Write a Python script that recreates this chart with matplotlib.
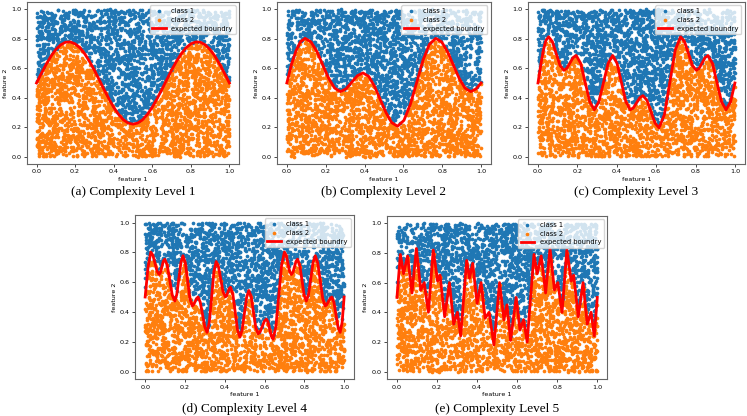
import numpy as np
import matplotlib.pyplot as plt

# expected boundary curves (x, y)
level1_x = [0, .025, .05, .075, .1, .125, .15, .175, .2, .225, .25, .275, .3, .325, .35, .375, .4,
            .425, .45, .475, .5, .525, .55, .575, .6, .625, .65, .675, .7, .725, .75, .775, .8,
            .825, .85, .875, .9, .925, .95, .975, 1.0]
level1_y = [.5, .565, .627, .682, .727, .759, .777, .779, .766, .739, .698, .646, .587, .522, .456,
            .393, .335, .287, .25, .228, .22, .228, .25, .287, .335, .393, .456, .522, .587, .646,
            .698, .739, .766, .779, .777, .759, .727, .682, .627, .565, .5]

level2_x = [0, .024, .047, .070, .094, .124, .155, .185, .215, .246, .276, .305, .334, .363, .392,
            .422, .451, .481, .511, .540, .570, .603, .636, .669, .701, .734, .767, .797, .827,
            .857, .887, .917, .947, .975, 1.0]
level2_y = [.50, .627, .718, .780, .803, .779, .713, .622, .532, .465, .441, .460, .505, .549, .568,
            .544, .478, .387, .297, .230, .206, .246, .355, .505, .654, .763, .803, .779, .713,
            .622, .532, .465, .441, .460, .50]

level3_x = [0, .0135, .027, .040, .054, .073, .0925, .112, .131, .147, .1625, .178, .194, .217, .240,
            .263, .286, .309, .3325, .356, .379, .4015, .424, .4465, .469, .485, .501, .517, .533,
            .5535, .574, .5945, .615, .642, .6695, .697, .724, .744, .764, .784, .804, .819,
            .8335, .848, .863, .886, .909, .932, .955, .978, 1.0]
level3_y = [.50, .617, .720, .788, .814, .781, .700, .619, .586, .601, .636, .672, .687, .633, .502,
            .372, .318, .372, .502, .633, .687, .633, .502, .372, .318, .332, .366, .400, .414,
            .382, .304, .227, .195, .285, .504, .724, .814, .781, .700, .619, .586, .601, .636,
            .672, .687, .633, .502, .372, .318, .372, .50]

level4_x = [0, .0145, .0285, .039, .060, .070, .077, .091, .0985, .111, .136, .149, .159, .180, .190,
            .202, .225, .237, .244, .259, .266, .277, .300, .311, .3225, .3455, .357, .3685, .3915,
            .403, .4095, .4225, .429, .441, .464, .476, .487, .510, .521, .533, .556, .568, .578,
            .599, .609, .6175, .6345, .643, .657, .686, .700, .709, .726, .735, .743, .758, .766,
            .777, .799, .810, .821, .844, .855, .8675, .8925, .905, .913, .930, .938, .9485,
            .9695, .980, .990, 1.0]
level4_y = [.50, .70, .802, .780, .673, .651, .666, .739, .754, .713, .514, .473, .517, .733, .777,
            .728, .489, .440, .449, .491, .500, .465, .298, .263, .332, .669, .738, .703, .535,
            .501, .510, .557, .566, .517, .280, .231, .277, .498, .544, .502, .295, .253, .267,
            .338, .352, .332, .237, .217, .302, .717, .802, .780, .673, .651, .666, .739, .754,
            .713, .514, .473, .517, .733, .777, .728, .489, .440, .449, .491, .500, .465,
            .298, .263, .33, .50]

level5_x = [0, .017, .033, .053, .075, .097, .119, .136, .157, .181, .203, .215, .238, .262, .283,
            .302, .318, .348, .362, .378, .400, .420, .440, .460, .484, .512, .534, .549, .567,
            .595, .614, .632, .650, .667, .684, .700, .720, .742, .764, .786, .803, .824, .848,
            .870, .882, .905, .929, .950, .969, .985, 1.0]
level5_y = [.50, .79, .66, .78, .53, .83, .55, .60, .40, .82, .61, .65, .37, .60, .32, .40, .24, .75,
            .63, .73, .46, .60, .36, .40, .18, .60, .35, .45, .21, .50, .28, .35, .20, .50, .79,
            .66, .78, .53, .83, .55, .60, .40, .82, .61, .65, .37, .60, .32, .40, .24, .50]

captions = ["(a) Complexity Level 1", "(b) Complexity Level 2", "(c) Complexity Level 3",
            "(d) Complexity Level 4", "(e) Complexity Level 5"]
boundaries = [(level1_x, level1_y), (level2_x, level2_y), (level3_x, level3_y),
              (level4_x, level4_y), (level5_x, level5_y)]

N_POINTS = 4000
rng = np.random.default_rng(3)  # uniform point cloud, as in the original sample data

fig = plt.figure(figsize=(7.47, 4.16), dpi=100)
positions = [[0.036, 0.606, 0.284, 0.389],
             [0.371, 0.606, 0.286, 0.389],
             [0.707, 0.606, 0.290, 0.389],
             [0.181, 0.089, 0.293, 0.394],
             [0.518, 0.089, 0.295, 0.392]]
caption_y = [0.538, 0.538, 0.538, 0.017, 0.017]

FS = 4.6
for pos, (bx, by), cap, cy in zip(positions, boundaries, captions, caption_y):
    ax = fig.add_axes(pos)
    pts = rng.uniform(0, 1, size=(N_POINTS, 2))
    above = pts[:, 1] > np.interp(pts[:, 0], bx, by)
    ax.scatter(pts[above, 0], pts[above, 1], s=7, c='#1f77b4', linewidths=0, label='class 1')
    ax.scatter(pts[~above, 0], pts[~above, 1], s=7, c='#ff7f0e', linewidths=0, label='class 2')
    ax.plot(bx, by, color='red', lw=2, label='expected boundry')
    ax.set_xticks([0, .2, .4, .6, .8, 1.0])
    ax.set_yticks([0, .2, .4, .6, .8, 1.0])
    ax.tick_params(labelsize=FS, length=2, width=0.5, pad=2)
    ax.set_xlabel('feature 1', fontsize=FS, labelpad=2)
    ax.set_ylabel('feature 2', fontsize=FS, labelpad=2)
    for sp in ax.spines.values():
        sp.set_color('#666666')
        sp.set_linewidth(0.8)
    ax.legend(loc='upper right', fontsize=FS + 0.3, scatterpoints=1, borderpad=0.4,
              handletextpad=0.8, labelspacing=0.4)
    fig.text(pos[0] + pos[2] / 2, cy, cap, ha='center', va='center',
             fontsize=9.5, family='Liberation Serif')

fig.savefig('out.png', dpi=100)
